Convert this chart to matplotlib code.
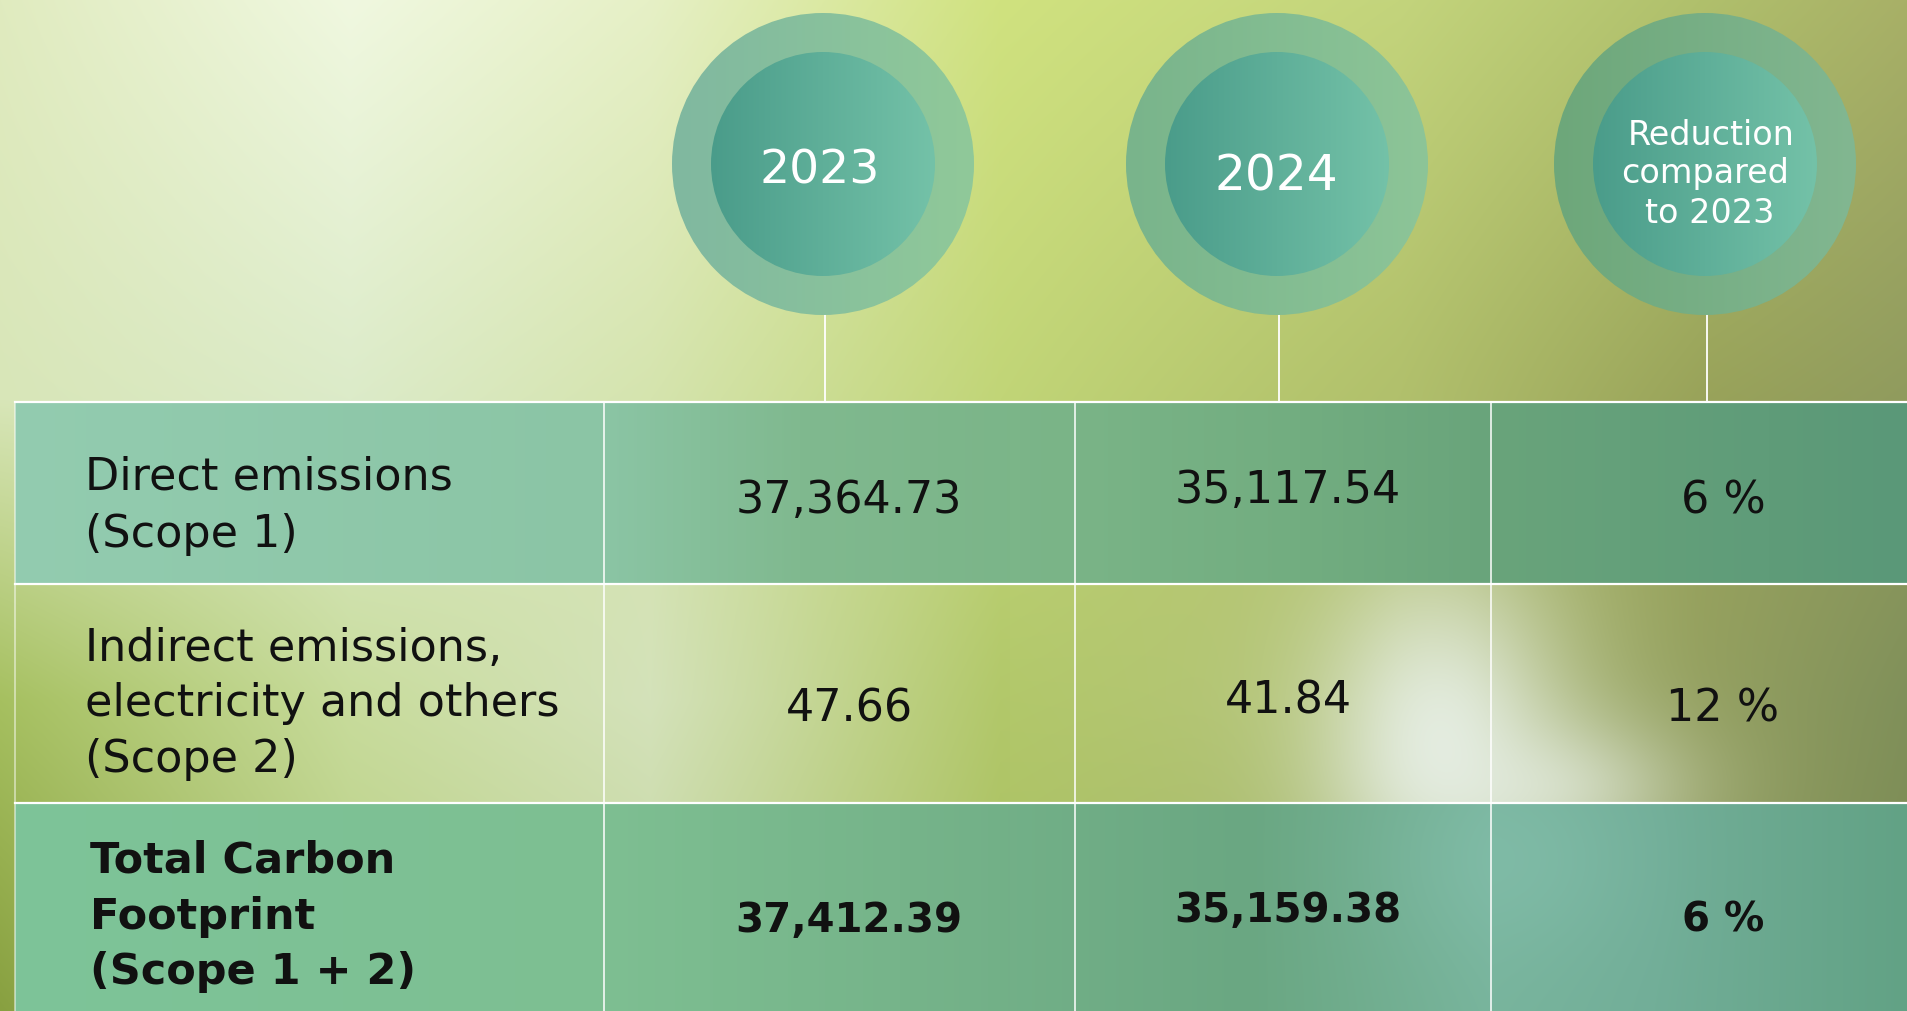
import matplotlib
matplotlib.use("Agg")
import matplotlib.pyplot as plt
import numpy as np
from matplotlib.patches import Circle
from matplotlib.colors import to_rgb

# table content
headers = ["2023", "2024", "Reduction\ncompared\nto 2023"]
row_labels = ["Direct emissions\n(Scope 1)",
              "Indirect emissions,\nelectricity and others\n(Scope 2)",
              "Total Carbon\nFootprint\n(Scope 1 + 2)"]
values_2023 = ["37,364.73", "47.66", "37,412.39"]
values_2024 = ["35,117.54", "41.84", "35,159.38"]
reduction = ["6 %", "12 %", "6 %"]

W, H = 1907, 1012
FONT = "DejaVu Sans"

fig = plt.figure(figsize=(W / 100, H / 100), dpi=100)
ax = fig.add_axes([0, 0, 1, 1])
ax.set_xlim(0, W)
ax.set_ylim(H, 0)
ax.axis("off")


def grid_image(xs, ys, colors, width, height, x0=0, y0=0):
    cols = np.array([[to_rgb(c) for c in row] for row in colors])
    X = np.arange(width) + x0
    Y = np.arange(height) + y0
    rows = np.stack([np.stack([np.interp(X, xs, cols[r, :, k]) for k in range(3)], -1)
                     for r in range(len(ys))])
    t = np.interp(Y, ys, np.arange(len(ys)))
    i0 = np.clip(np.floor(t).astype(int), 0, len(ys) - 2)
    f = (t - i0)[:, None, None]
    return rows[i0] * (1 - f) + rows[i0 + 1] * f


def glow(img, cx, cy, sx, sy, amp, x0=0, y0=0, color=(0.92, 0.95, 0.93)):
    h, w = img.shape[:2]
    X, Y = np.meshgrid(np.arange(w) + x0, np.arange(h) + y0)
    g = amp * np.exp(-((X - cx) ** 2 / (2 * sx ** 2) + (Y - cy) ** 2 / (2 * sy ** 2)))
    return img * (1 - g[..., None]) + np.array(color) * g[..., None]


# background
bx = [0, 350, 650, 1000, 1400, 1700, 1907]
by = [0, 400, 700, 1012]
bc = [["#e0ebbf", "#f0f8e0", "#e6f0c6", "#d0e27f", "#c3d47c", "#b0c06c", "#a8b067"],
      ["#d8e6b8", "#dcebc9", "#d5e4ae", "#c1d577", "#b0bf6a", "#99a35a", "#909b5e"],
      ["#a6c060", "#c8dc9c", "#d4e2ba", "#b2c86a", "#b4c27c", "#94a060", "#80905a"],
      ["#88a040", "#b6cc80", "#c4d6a0", "#a8be60", "#a0b070", "#8c985a", "#7a8a52"]]
bg = grid_image(bx, by, bc, W, H)
bg = glow(bg, 1440, 735, 85, 120, 0.85)
bg = glow(bg, 1545, 790, 100, 50, 0.6)
ax.imshow(bg, extent=(0, W, H, 0), aspect="auto", zorder=0)

# table geometry
left = 15
col_x = [left, 604, 1075, 1491, W]
row_y = [403, 585, 804, H]

# opaque rows 1 and 3
r1 = grid_image([0, 600, 800, 1075, 1300, 1491, 1907], [0, 1],
                [["#93ccb0", "#8bc5a5", "#80b98f", "#7ab487", "#72ad80", "#69a47b", "#5a9878"]] * 2,
                W - left, row_y[1] - row_y[0], x0=left)
ax.imshow(r1, extent=(left, W, row_y[1], row_y[0]), aspect="auto", zorder=1)

r3 = grid_image([0, 600, 900, 1250, 1490, 1650, 1907], [0, 1],
                [["#7ec499", "#7ebf92", "#76b48a", "#6aa782", "#78b49c", "#72ae98", "#62a285"]] * 2,
                W - left, row_y[3] - row_y[2], x0=left)
r3 = glow(r3, 1510, 860, 90, 70, 0.35, x0=left, y0=row_y[2], color=(0.55, 0.78, 0.72))
ax.imshow(r3, extent=(left, W, row_y[3], row_y[2]), aspect="auto", zorder=1)

# grid lines
lc = "white"
for y in row_y[:3]:
    ax.plot([left, W], [y, y], color=lc, lw=1.6, zorder=3)
for x in col_x[1:4]:
    ax.plot([x, x], [row_y[0], H], color=lc, lw=1.1, zorder=3)
ax.plot([left, left], [row_y[0], H], color=lc, lw=1.1, alpha=0.6, zorder=3)

# header circles
centers = [823, 1277, 1705]
cy, r_out, r_in = 165, 151, 112
outer_cols = [("#80b8a0", "#90c999"), ("#79b48b", "#8dc598"), ("#6da77a", "#82b791")]
head_pos = [[(820, 183)], [(1276, 190)], [(1711, 145), (1705, 183), (1710, 223)]]
head_size = [34, 35, 24]
for cx, head, oc, pos, fs in zip(centers, headers, outer_cols, head_pos, head_size):
    ax.plot([cx + 2, cx + 2], [cy + r_out, row_y[0]], color=lc, lw=1.3, zorder=2)
    for rad, (c0, c1) in [(r_out, oc), (r_in, ("#4a9c8a", "#74c2a8"))]:
        grad = grid_image([0, 2 * rad], [0, 1], [[c0, c1], [c0, c1]], int(2 * rad), 2)
        im = ax.imshow(grad, extent=(cx - rad, cx + rad, cy + rad, cy - rad),
                       aspect="auto", zorder=4)
        im.set_clip_path(Circle((cx, cy), rad, transform=ax.transData))
    for line, (tx, ty) in zip(head.split("\n"), pos):
        ax.text(tx, ty, line, color="white", fontsize=fs, family=FONT,
                ha="center", va="baseline", zorder=5)

# row texts (baselines in pixels)
label_x = [85, 85, 90]
label_y = [[490, 547], [661, 716, 772], [873, 929, 984]]
val_y = [(513, 503), (722, 713), (932, 922)]
col_cx = [849, 1288, 1723]
for i, lab in enumerate(row_labels):
    bold = i == 2
    fw = "bold" if bold else "normal"
    lab_fs = 31 if bold else 32
    num_fs = 29 if bold else 32
    for line, y in zip(lab.split("\n"), label_y[i]):
        ax.text(label_x[i], y, line, fontsize=lab_fs, family=FONT, fontweight=fw,
                color="#111111", ha="left", va="baseline", zorder=5)
    ya, yb = val_y[i]
    for cx, y, txt in [(col_cx[0], ya, values_2023[i]), (col_cx[1], yb, values_2024[i]),
                       (col_cx[2], ya, reduction[i])]:
        ax.text(cx, y, txt, fontsize=num_fs, family=FONT, fontweight=fw,
                color="#111111", ha="center", va="baseline", zorder=5)

fig.savefig("out.png", dpi=100)
